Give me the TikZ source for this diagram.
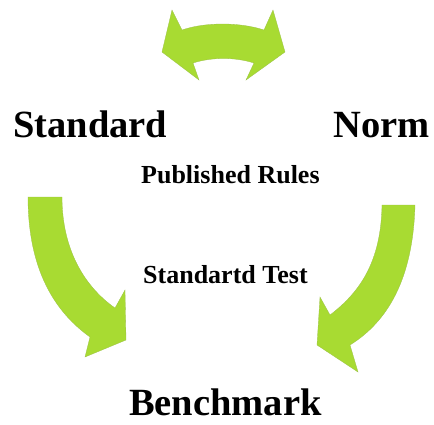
\documentclass[tikz,border=0pt]{standalone}
\usepackage{fontspec}
\setmainfont{Liberation Serif}
\definecolor{arrowgreen}{RGB}{168,219,50}
\tikzset{
  bigarrow/.style={fill=arrowgreen, draw=arrowgreen!70!gray, line width=0.3pt, line join=miter},
  bigtext/.style={font=\bfseries\fontsize{38.5}{40}\selectfont, inner sep=0pt},
  midtext/.style={font=\bfseries\fontsize{26}{28}\selectfont, inner sep=0pt},
}
\begin{document}
\begin{tikzpicture}[x=1pt,y=-1pt]
\useasboundingbox (0,0) rectangle (434,424);
% top double arrow
\path[bigarrow] (162,52) -- (172,10) -- (182,30)
  .. controls (205,22) and (240,22) .. (264,30)
  -- (273,10) -- (285,52) -- (246,80) -- (254,63)
  .. controls (235,57) and (212,57) .. (193,63)
  -- (199,80) -- cycle;
% left arrow
\path[bigarrow] (28,197) -- (62,197)
  .. controls (62,250) and (85,287) .. (115,308)
  -- (125,290) -- (126,340) -- (85,357) -- (90,337)
  .. controls (55,312) and (28,270) .. (28,197) -- cycle;
% right arrow
\path[bigarrow] (382,205) -- (415,205)
  .. controls (413,280) and (387,322) .. (350,345)
  -- (358,372) -- (317,345) -- (320,297) -- (330,315)
  .. controls (360,292) and (381,262) .. (382,205) -- cycle;
% texts
\node[bigtext, anchor=base west] (std) at (13,137) {Standard};
\node[bigtext, anchor=base east] (norm) at (430,137) {Norm};
\node[midtext, anchor=base west] (pub) at (141,183) {Published Rules};
\node[midtext, anchor=base west] (test) at (143,283) {Standartd Test};
\node[bigtext, anchor=base west] (bench) at (129,415) {Benchmark};
\end{tikzpicture}
\end{document}
